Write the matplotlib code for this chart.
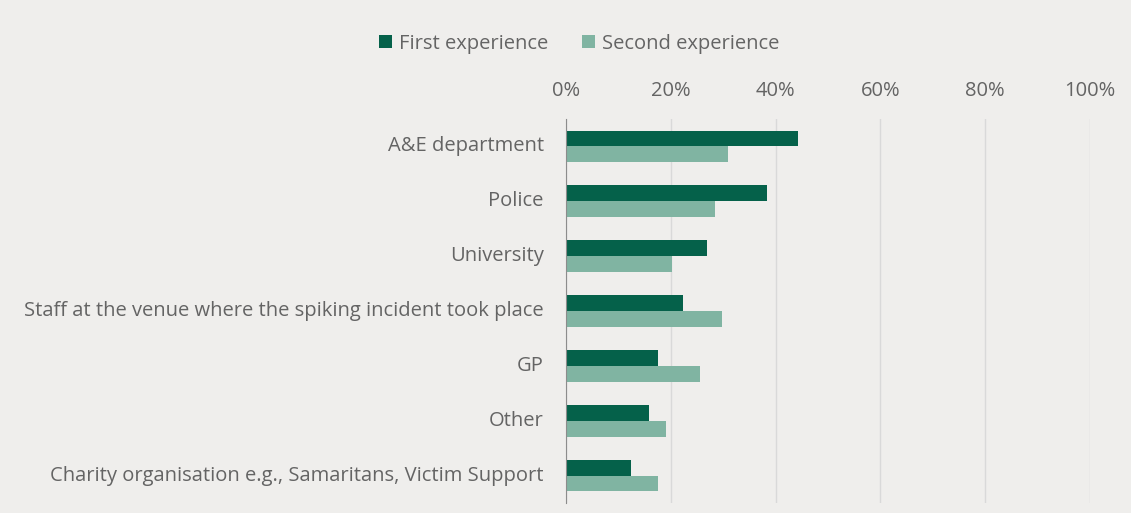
import numpy as np
import matplotlib.pyplot as plt
from matplotlib.ticker import PercentFormatter

plt.rcParams['font.family'] = ['Open Sans', 'DejaVu Sans']

categories = [
    "A&E department",
    "Police",
    "University",
    "Staff at the venue where the spiking incident took place",
    "GP",
    "Other",
    "Charity organisation e.g., Samaritans, Victim Support",
]
first_exp = [44.2, 38.3, 26.9, 22.3, 17.6, 15.9, 12.5]
second_exp = [31.0, 28.5, 20.2, 29.8, 25.6, 19.0, 17.5]
x_ticks = [0, 20, 40, 60, 80, 100]

bg = "#efeeec"
dark = "#05614a"
light = "#80b4a2"
text_col = "#646464"
fs = 14.5

fig = plt.figure(figsize=(11.31, 5.13), dpi=100, facecolor=bg)
ax = fig.add_axes([0.5004, 0.0195, 0.4633, 0.7485], facecolor=bg)

y = np.arange(len(categories))
h = 0.29
ax.barh(y - h / 2, first_exp, height=h, color=dark, label="First experience", zorder=3)
ax.barh(y + h / 2, second_exp, height=h, color=light, label="Second experience", zorder=3)

ax.set_ylim(len(categories) - 0.5, -0.5)
ax.set_xlim(0, 100)
ax.set_yticks(y)
ax.set_yticklabels(categories, fontsize=fs, color=text_col, va='center')
ax.set_xticks(x_ticks)
ax.xaxis.set_major_formatter(PercentFormatter(decimals=0))
ax.xaxis.tick_top()
ax.tick_params(axis='x', length=0, labelsize=fs, labelcolor=text_col, pad=13)
ax.tick_params(axis='y', length=0, pad=16)
ax.grid(axis='x', color="#d9d9d9", linewidth=1, zorder=0)

for side in ["top", "right", "bottom"]:
    ax.spines[side].set_visible(False)
ax.spines["left"].set_color("#8c8c8c")
ax.spines["left"].set_zorder(4)

fig.legend(loc="center", bbox_to_anchor=(0.512, 0.915), ncol=2, frameon=False,
           fontsize=fs, labelcolor=text_col, handlelength=0.63, handleheight=0.63,
           handletextpad=0.35, columnspacing=1.7)

fig.savefig("out.png", dpi=100, facecolor=bg)
